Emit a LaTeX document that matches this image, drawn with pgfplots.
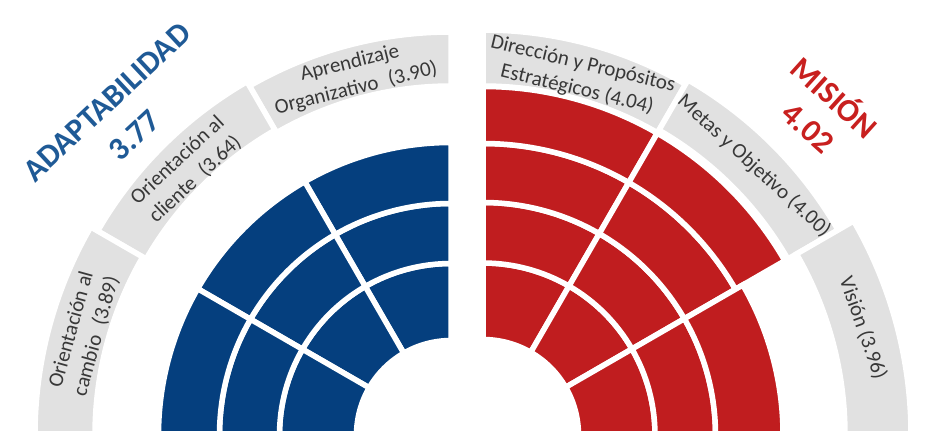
\documentclass[border=0pt]{standalone}
\usepackage{fontspec}
\setmainfont{Carlito}
\usepackage{pgfplots}
\usepackage{pgfplotstable}
\pgfplotsset{compat=1.18}

\definecolor{bandgray}{HTML}{E1E1E1}
\definecolor{barblue}{HTML}{053F7E}
\definecolor{barred}{HTML}{C01D1F}
\definecolor{titleblue}{HTML}{1F5A96}
\definecolor{titlered}{HTML}{C8201F}
\definecolor{labtext}{HTML}{383838}

% annular sector mark: centre at data point, angles a1..a2, radii rin..rout (1 unit = 1pt)
\pgfdeclareplotmark{annsec}{%
  \pgfpathmoveto{\pgfpointpolar{\aone}{\rin pt}}%
  \pgfpathlineto{\pgfpointpolar{\aone}{\rout pt}}%
  \pgfpatharc{\aone}{\atwo}{\rout pt}%
  \pgfpathlineto{\pgfpointpolar{\atwo}{\rin pt}}%
  \pgfpatharc{\atwo}{\aone}{\rin pt}%
  \pgfpathclose
  \pgfusepathqfillstroke
}

% label bands
\pgfplotstableread{
cx cy a1 a2 rin rout
451 1 90 120 349 403
451 1 120 150 352 408
451 1 150 180 356 416
483 1 60 90 349 405
483 1 30 60 352 410
483 1 0 30 362 428
}\bandtable

% ADAPTABILIDAD: Aprendizaje 3.90, Cliente 3.64, Cambio 3.89 (3 rings each)
\pgfplotstableread{
cx cy a1 a2 rin rout
451 1 90 120 94.5 171.5
451 1 90 120 171.5 231.5
451 1 90 120 231.5 292.5
451 1 120 150 94.5 171.5
451 1 120 150 171.5 231.5
451 1 120 150 231.5 292.5
451 1 150 180 94.5 171.5
451 1 150 180 171.5 231.5
451 1 150 180 231.5 292.5
}\bluetable

% MISION: Direccion 4.04, Metas 4.00 (4 rings), Vision 3.96 (3 rings)
\pgfplotstableread{
cx cy a1 a2 rin rout
483 1 60 90 95.5 172
483 1 60 90 172 232.5
483 1 60 90 232.5 291.5
483 1 60 90 291.5 348.5
483 1 30 60 95.5 172
483 1 30 60 172 232.5
483 1 30 60 232.5 291.5
483 1 30 60 291.5 348.5
483 1 0 30 95.5 172
483 1 0 30 172 232.5
483 1 0 30 232.5 300
}\redtable

\begin{document}
\begin{tikzpicture}
\begin{scope}
\clip (0pt,6pt) rectangle (936pt,436pt);
\begin{axis}[
  at={(0pt,0pt)}, anchor=origin,
  x=1pt, y=1pt,
  xmin=0, xmax=936, ymin=0, ymax=436,
  hide axis,
  clip=true,
  clip marker paths=true,
  sector/.style={only marks, mark=annsec,
    visualization depends on={\thisrow{a1}\as\aone},
    visualization depends on={\thisrow{a2}\as\atwo},
    visualization depends on={\thisrow{rin}\as\rin},
    visualization depends on={\thisrow{rout}\as\rout}},
]
\coordinate (bbsw) at (axis cs:0,0);
\coordinate (bbne) at (axis cs:936,436);

\addplot[sector, mark options={fill=bandgray, draw=white, line width=5.5pt}]
  table[x=cx, y=cy] \bandtable;
\addplot[sector, mark options={fill=barblue, draw=white, line width=5.5pt}]
  table[x=cx, y=cy] \bluetable;
\addplot[sector, mark options={fill=barred, draw=white, line width=5.5pt}]
  table[x=cx, y=cy] \redtable;

% band labels
\begin{scope}[every node/.style={text=labtext, align=center,
    font=\fontsize{21}{26}\selectfont, inner sep=0pt}]
\node[rotate=74.5] at (axis cs:84,103) {Orientación al\\cambio\enspace(3.89)};
\node[rotate=43] at (axis cs:186.5,266) {Orientación al\\cliente\enspace(3.64)};
\node[rotate=14] at (axis cs:353,360) {Aprendizaje\\Organizativo\enspace(3.90)};
\node[rotate=-13.5] at (axis cs:580,359) {Dirección y Propósitos\\Estratégicos (4.04)};
\node[rotate=-42.5] at (axis cs:754,270) {Metas y Objetivo (4.00)};
\node[rotate=-70.5] at (axis cs:863,108) {Visión (3.96)};
\end{scope}

% titles
\begin{scope}[every node/.style={font=\bfseries\fontsize{32}{38}\selectfont, inner sep=0pt}]
\node[rotate=43, text=titleblue] at (axis cs:107,334) {ADAPTABILIDAD};
\node[rotate=43, text=titleblue] at (axis cs:134,301) {3.77};
\node[rotate=-42, text=titlered] at (axis cs:836,340) {MISIÓN};
\node[rotate=-42, text=titlered] at (axis cs:808,308) {4.02};
\end{scope}
\end{axis}
\end{scope}
\pgfresetboundingbox
\path[use as bounding box] (bbsw) rectangle (bbne);
\end{tikzpicture}
\end{document}
